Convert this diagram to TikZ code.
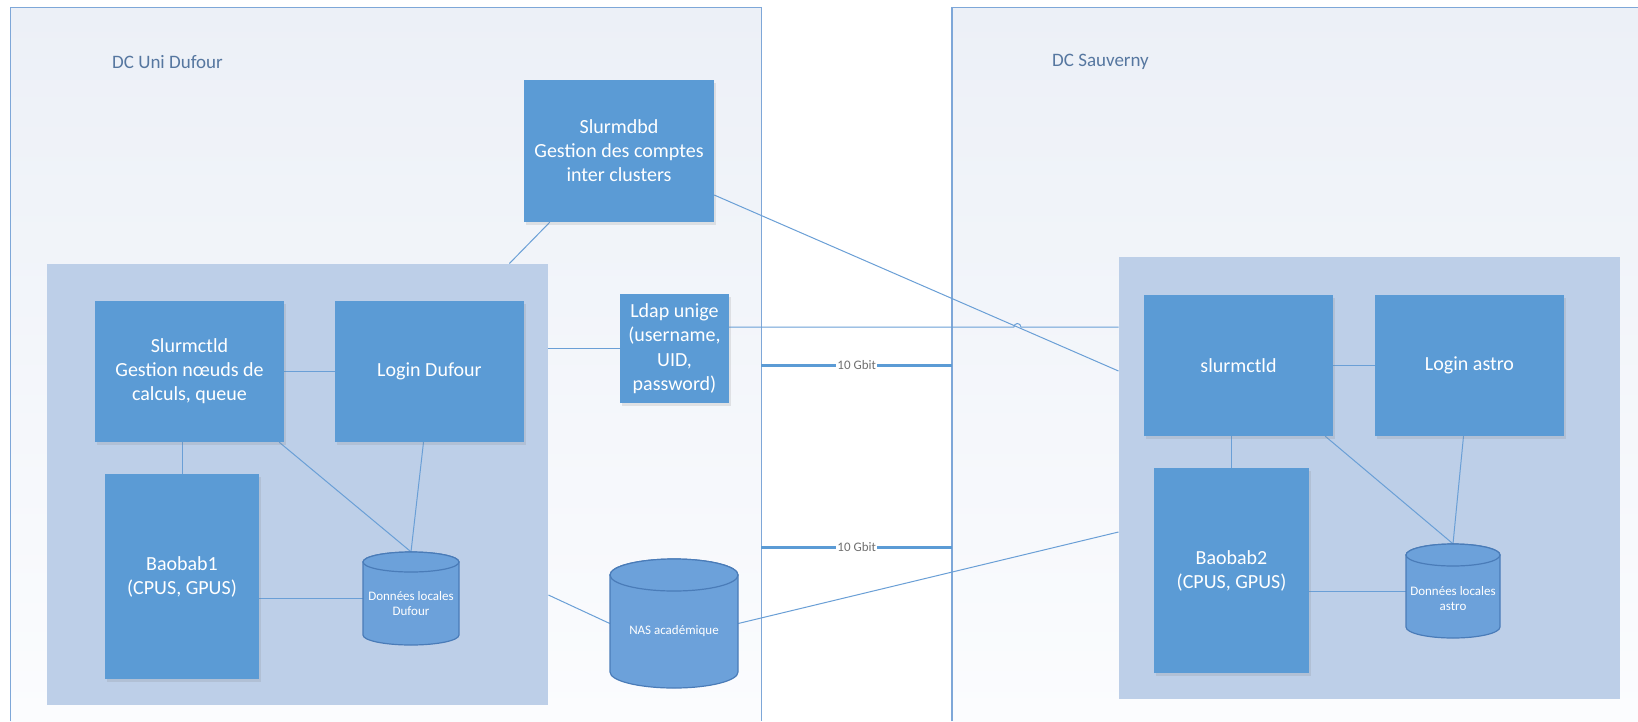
\documentclass[tikz,border=0pt]{standalone}
\usepackage{fontspec}
\setmainfont{Carlito}
\usetikzlibrary{calc,shadows}
\definecolor{boxblue}{HTML}{5B9BD5}
\definecolor{panelblue}{HTML}{BDCFE8}
\definecolor{dcline}{HTML}{7EA7D8}
\definecolor{dctop}{HTML}{ECF0F7}
\definecolor{dcbot}{HTML}{FBFCFE}
\definecolor{dctext}{HTML}{5677A0}
\definecolor{cylfill}{HTML}{6CA1DA}
\definecolor{cylline}{HTML}{4A7CB8}
\definecolor{gbittext}{HTML}{707070}
\definecolor{connblue}{HTML}{6A9FD6}
\pgfdeclarelayer{back}\pgfdeclarelayer{bg}\pgfsetlayers{back,bg,main}
\newcommand\dbcyl[6]{%
  \pgfmathsetmacro\cxl{#2-#4/2}\pgfmathsetmacro\cxr{#2+#4/2}%
  \pgfmathsetmacro\cyt{#3-#5/2+#6}\pgfmathsetmacro\cyb{#3+#5/2-#6}%
  \pgfmathsetmacro\crx{#4/2}%
  \draw[cylstyle] (\cxl,\cyt) -- (\cxl,\cyb) arc[start angle=180,end angle=0,x radius=\crx,y radius=#6] -- (\cxr,\cyt) arc[start angle=0,end angle=-180,x radius=\crx,y radius=#6] -- cycle;
  \draw[cylstyle] (#2,\cyt) ellipse[x radius=\crx, y radius=#6];
  \node[cylnode, minimum width=#4pt, minimum height=#5pt] (#1) at (#2,#3) {};
}
\begin{document}
\begin{tikzpicture}[x=1pt,y=-1pt,
  dcbox/.style={rectangle, top color=dctop, bottom color=dcbot, anchor=north west, inner sep=0},
  dcborder/.style={draw=dcline, line width=1.3pt},
  dclabel/.style={font=\fontsize{19}{23}\selectfont, text=dctext, anchor=west, inner sep=0},
  panel/.style={rectangle, fill=panelblue, anchor=north west, inner sep=0},
  srv/.style={rectangle, fill=boxblue, text=white, align=center, inner sep=0,
    font=\fontsize{20}{24}\selectfont,
    drop shadow={opacity=0.18, shadow xshift=2pt, shadow yshift=-2.5pt}},
  conn/.style={draw=connblue, line width=1pt},
  gbit/.style={draw=boxblue, line width=3pt},
  gbitlabel/.style={fill=white, text=gbittext, font=\fontsize{13}{15}\selectfont, inner sep=1.5pt},
  cylstyle/.style={fill=cylfill, draw=cylline, line width=1.2pt},
  cylnode/.style={rectangle, inner sep=0},
  cyltext/.style={text=white, align=center, font=\fontsize{13}{15.5}\selectfont, inner sep=0}
]
\useasboundingbox (0,0) rectangle (1638,721);
\begin{pgfonlayer}{back}
  \fill[white] (0,0) rectangle (1638,721);
  \node[dcbox, minimum width=750.5pt, minimum height=713.5pt] (dc1) at (10.5,7.5) {};
  \node[dcbox, minimum width=686pt, minimum height=713.5pt] (dc2) at (952,7.5) {};
  \draw[dcborder] (dc1.south west) |- (dc1.north east) -- (dc1.south east);
  \draw[dcborder] (dc2.south west) |- (dc2.north east);
  \node[panel, minimum width=501pt, minimum height=441.5pt] (p1) at (47,263.5) {};
  \node[panel, minimum width=501pt, minimum height=441.5pt] (p2) at (1118.5,257) {};
\end{pgfonlayer}

\node[dclabel] (lab1) at (112,62) {DC Uni Dufour};
\node[dclabel] (lab2) at (1052,62) {DC Sauverny};

\node[srv, minimum width=190pt, minimum height=142pt] (dbd) at (619,151) {Slurmdbd\\Gestion des comptes\\inter clusters};
\node[srv, minimum width=189pt, minimum height=141pt] (s1) at (189.5,371.5) {Slurmctld\\Gestion nœuds de\\calculs, queue};
\node[srv, minimum width=189pt, minimum height=141pt] (l1) at (429.5,371.5) {Login Dufour};
\node[srv, minimum width=109pt, minimum height=109pt, font=\fontsize{20}{24.5}\selectfont] (ldap) at (674.5,348.5) {Ldap unige\\(username,\\UID,\\password)};
\node[srv, minimum width=154pt, minimum height=205pt] (b1) at (182,576.5) {Baobab1\\(CPUS, GPUS)};
\node[srv, minimum width=189pt, minimum height=141pt] (s2) at (1238.5,365.5) {slurmctld};
\node[srv, minimum width=189pt, minimum height=141pt] (l2) at (1469.5,365.5) {Login astro};
\node[srv, minimum width=155pt, minimum height=205pt] (b2) at (1231.5,570.5) {Baobab2\\(CPUS, GPUS)};

\dbcyl{d1}{411}{598.5}{96}{93}{10}
\node[cyltext] (d1t) at (411,603.5) {Données locales\\Dufour};
\dbcyl{nas}{674}{623.5}{128}{129}{16}
\node[cyltext] (nast) at (674,631) {NAS académique};
\dbcyl{d2}{1453}{591}{94}{94}{11}
\node[cyltext] (d2t) at (1453,598.5) {Données locales\\astro};

\begin{pgfonlayer}{bg}
  % inter-cluster links
  \draw[conn] ($(dbd.south west)+(26,0)$) -- ($(p1.north east)+(-39,0)$);
  \draw[conn] ($(dbd.east)+(0,44)$) -- ($(p2.north west)+(0,114)$);
  \draw[conn] (ldap.west) -- (ldap.west -| p1.east);
  \draw[conn] ($(ldap.east)+(0,-21.5)$) coordinate (lr) -- (1013.9,327) arc[start angle=180,end angle=360,radius=3.5] -- (lr -| p2.west);
  \draw[conn] (nas.west) -- ($(p1.north east)+(0,331.5)$);
  \draw[conn] (nas.east) -- ($(p2.north west)+(0,275)$);
  \draw[gbit] ($(dc1.north east)+(0,357.5)$) -- ($(dc2.north west)+(0,357.5)$) node[gbitlabel, midway] (g1) {10 Gbit};
  \draw[gbit] ($(dc1.north east)+(0,539.5)$) -- ($(dc2.north west)+(0,539.5)$) node[gbitlabel, midway] (g2) {10 Gbit};
  % left cluster
  \draw[conn] (s1.east) -- (l1.west);
  \draw[conn] (b1.north) -- (b1.north |- s1.south);
  \draw[conn] ($(s1.south east)+(-5,0)$) -- (d1.north);
  \draw[conn] ($(l1.south)+(-6,0)$) -- (d1.north);
  \draw[conn] (d1.west -| b1.east) -- (d1.west);
  % right cluster
  \draw[conn] (s2.east) -- (l2.west);
  \draw[conn] (b2.north) -- (b2.north |- s2.south);
  \draw[conn] ($(s2.south east)+(-8,0)$) -- (d2.north);
  \draw[conn] ($(l2.south)+(-6,0)$) -- (d2.north);
  \draw[conn] (d2.west -| b2.east) -- (d2.west);
\end{pgfonlayer}
\end{tikzpicture}
\end{document}
